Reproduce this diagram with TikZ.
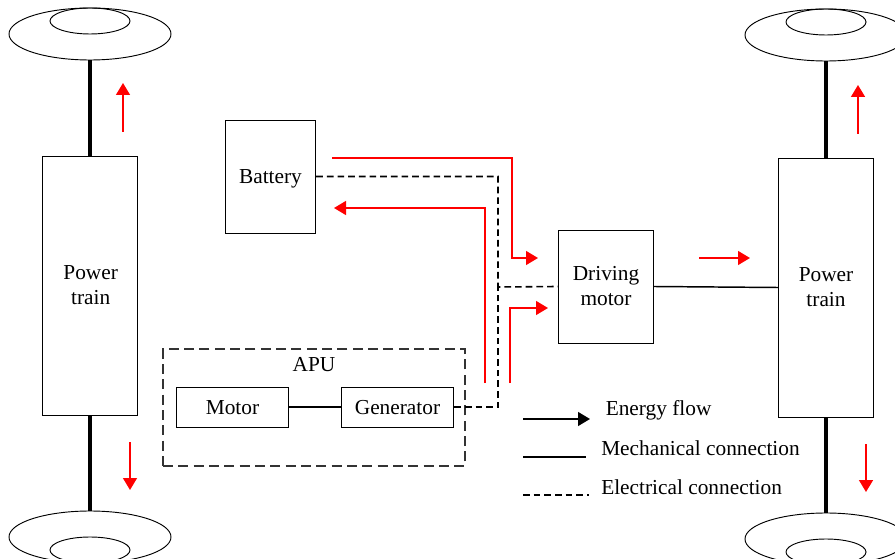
\documentclass[tikz,border=0pt]{standalone}
\usepackage{fontspec}
\setmainfont{Liberation Serif}
\usetikzlibrary{arrows.meta,shapes.geometric}
\tikzset{
	box/.style={draw,line width=0.6pt,inner sep=0pt,align=center,font=\fontsize{16}{18.8}\selectfont},
	drop/.style={execute at begin node=\rule{0pt}{#1}},
	label/.style={inner sep=0pt,anchor=west,font=\fontsize{16}{18.8}\selectfont},
	wheel/.style={draw,ellipse,line width=0.7pt,inner sep=0pt,minimum width=121.5pt,minimum height=39pt},
	hub/.style={draw,ellipse,line width=0.7pt,inner sep=0pt,minimum width=60pt,minimum height=19.5pt},
	shaft/.style={line width=2.7pt},
	mech/.style={line width=1.1pt},
	elec/.style={line width=1.2pt,dash pattern=on 5pt off 3pt},
	flow/.style={red,line width=1.1pt,-{Triangle[length=9pt,width=10.5pt]}}
}
\begin{document}
\begin{tikzpicture}[x=0.75pt,y=-0.75pt]
	\useasboundingbox (0,0) rectangle (895,559);
	%wheels
	\node [wheel] (wheelTL) at (90,34) {};
	\node [hub] (hubTL) at (90,21) {};
	\node [wheel] (wheelBL) at (90,537) {};
	\node [hub] (hubBL) at (90,550) {};
	\node [wheel] (wheelTR) at (826,35) {};
	\node [hub] (hubTR) at (826,22) {};
	\node [wheel] (wheelBR) at (826,539) {};
	\node [hub] (hubBR) at (826,552) {};
	%boxes
	\node [box,drop=15pt,minimum width=71.6pt,minimum height=194.25pt] (trainL) at (90,285.5) {\hspace{1pt}Power\\\hspace{1pt}train};
	\node [box,drop=15pt,minimum width=71.6pt,minimum height=194.25pt] (trainR) at (826,287.5) {Power\\train};
	\node [box,drop=13.8pt,minimum width=67.9pt,minimum height=84.75pt] (battery) at (270.5,176.5) {Battery};
	\node [box,drop=13.8pt,minimum width=71.6pt,minimum height=84.75pt] (drive) at (606,286.5) {Driving\\motor};
	\node [box,drop=12pt,minimum width=84.4pt,minimum height=30pt] (motor) at (232.5,407) {Motor};
	\node [box,drop=12pt,minimum width=84.4pt,minimum height=30pt] (gen) at (397.5,407) {Generator};
	\node [draw,black!80,line width=0.8pt,dash pattern=on 7.5pt off 4pt,minimum width=226.5pt,minimum height=87.75pt] (apu) at (314,407.5) {};
	\node [label,anchor=center] (apuname) at (314,365) {APU};
	%shafts
	\draw [shaft] (wheelTL.south) -- (trainL.north);
	\draw [shaft] (trainL.south) -- (wheelBL.north);
	\draw [shaft] (wheelTR.south) -- (trainR.north);
	\draw [shaft] (trainR.south) -- (wheelBR.north);
	%connections
	\draw [mech] (drive.east) -- (trainR.west);
	\draw [mech] (motor.east) -- (gen.west);
	\draw [elec] (battery.east) -| (498,287) -- (drive.west);
	\draw [elec] (gen.east) -| (498,287);
	%energy flow
	\coordinate (outA) at (332,158);
	\coordinate (outB) at (538,258);
	\coordinate (backA) at (485,383);
	\coordinate (backB) at (334,208);
	\coordinate (genA) at (510,383);
	\coordinate (genB) at (548,308);
	\draw [flow] (outA) -- ++(180,0) |- (outB);
	\draw [flow] (backA) |- (backB);
	\draw [flow] (genA) |- (genB);
	\coordinate (driveA) at (699,258);
	\coordinate (driveB) at (750,258);
	\draw [flow] (driveA) -- (driveB);
	\coordinate (upLa) at (123,132);
	\coordinate (upLb) at (123,83);
	\draw [flow] (upLa) -- (upLb);
	\coordinate (downLa) at (130,442);
	\coordinate (downLb) at (130,490);
	\draw [flow] (downLa) -- (downLb);
	\coordinate (upRa) at (858,134);
	\coordinate (upRb) at (858,85);
	\draw [flow] (upRa) -- (upRb);
	\coordinate (downRa) at (866,444);
	\coordinate (downRb) at (866,492);
	\draw [flow] (downRa) -- (downRb);
	%legend
	\coordinate (keyA) at (523,419);
	\coordinate (keyB) at (590,419);
	\coordinate (keyC) at (523,457);
	\coordinate (keyD) at (586,457);
	\coordinate (keyE) at (523,495);
	\coordinate (keyF) at (589,495);
	\draw [mech,-{Triangle[length=9pt,width=10.5pt]}] (keyA) -- (keyB);
	\draw [mech] (keyC) -- (keyD);
	\draw [elec] (keyE) -- (keyF);
	\node [label] (keyflow) at (605.5,410.5) {Energy flow};
	\node [label] (keymech) at (601,448) {Mechanical connection};
	\node [label] (keyelec) at (601,487) {Electrical connection};
\end{tikzpicture}
\end{document}
